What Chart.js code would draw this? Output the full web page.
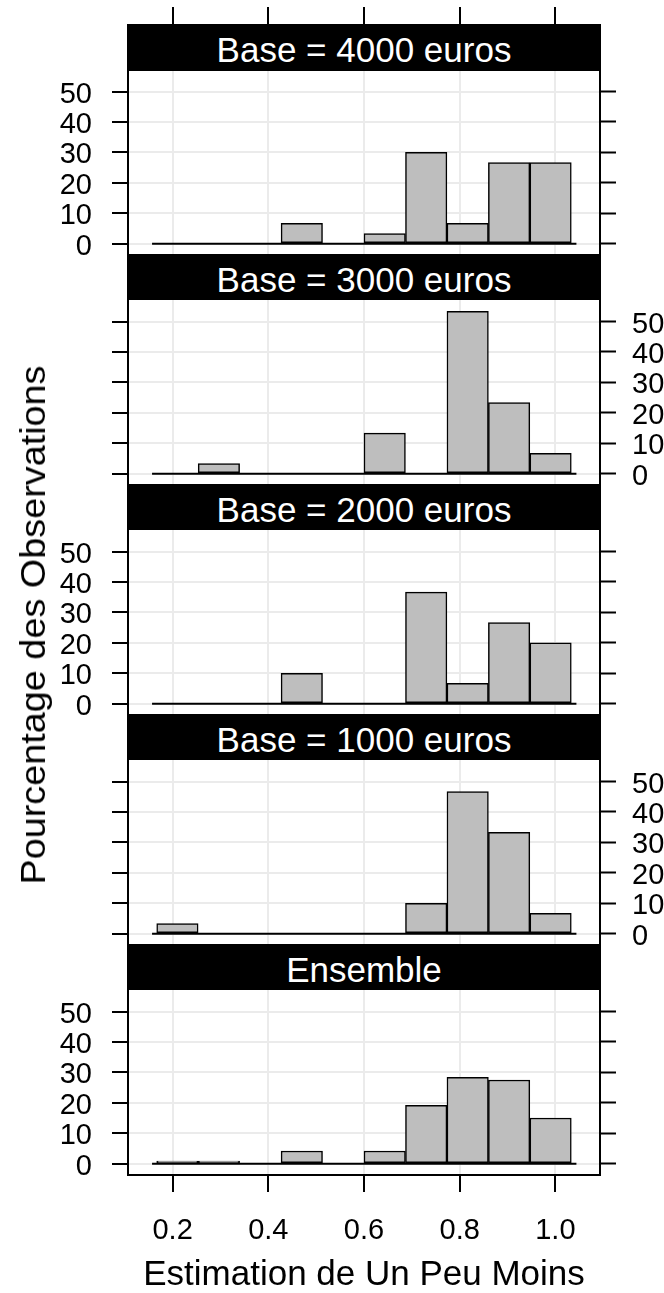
<!DOCTYPE html>
<html><head><meta charset="utf-8">
<script src="https://cdn.jsdelivr.net/npm/chart.js@4.4.1/dist/chart.umd.min.js"></script>
<style>
html,body{margin:0;padding:0;background:#fff;}
body{width:664px;height:1293px;position:relative;overflow:hidden;font-family:"Liberation Sans",Arial,sans-serif;}
canvas{position:absolute;left:0;z-index:1;}
.strip{position:absolute;left:127px;width:474px;height:46px;background:#000;color:#fff;font-size:35px;line-height:46px;text-align:center;z-index:2;white-space:nowrap;}
.strip span{position:relative;top:3px;}
#ytitle{position:absolute;left:33px;top:625px;transform:translate(-50%,-50%) rotate(-90deg) scaleX(1.08);font-size:35px;line-height:40px;white-space:nowrap;color:#000;z-index:3;}
</style></head><body>
<div id="ytitle">Pourcentage des Observations</div>
<script>
// ---- data ----
const panelTitles = ['Base = 4000 euros', 'Base = 3000 euros', 'Base = 2000 euros', 'Base = 1000 euros', 'Ensemble'];
const binCenters = [0.21, 0.2967, 0.3833, 0.47, 0.5567, 0.6433, 0.73, 0.8167, 0.9033, 0.99];
const base4000 = [0, 0, 0, 6.67, 0, 3.33, 30, 6.67, 26.67, 26.67];
const base3000 = [0, 3.33, 0, 0, 0, 13.33, 0, 53.33, 23.33, 6.67];
const base2000 = [0, 0, 0, 10, 0, 0, 36.67, 6.67, 26.67, 20];
const base1000 = [3.33, 0, 0, 0, 0, 0, 10, 46.67, 33.33, 6.67];
const ensemble = [0.83, 0.83, 0, 4.17, 0, 4.17, 19.17, 28.33, 27.5, 15];
const panelValues = [base4000, base3000, base2000, base1000, ensemble];
const xTicks = [0.2, 0.4, 0.6, 0.8, 1.0];
const yTicks = [0, 10, 20, 30, 40, 50];
const xLimits = [0.1067, 1.0933];
const yLimits = [-3.73, 57.07];
const baselineSpan = [0.157, 1.044];
const labelSide = ['left', 'right', 'left', 'right', 'left'];
const xTitle = 'Estimation de Un Peu Moins';

// ---- layout ----
const FONT = "'Liberation Sans', Arial, sans-serif";
const PAGE_H = 1293, PLOT_TOP0 = 70, PITCH = 230, PLOT_H = 185, LEFT_W = 128, RIGHT_W = 64, STRIP_H = 46;
Chart.defaults.font.family = FONT;

panelValues.forEach((vals, i) => {
  const isFirst = i === 0, isLast = i === panelValues.length - 1;
  const plotTop = PLOT_TOP0 + PITCH * i;
  const plotBottom = plotTop + PLOT_H;
  const xAxisH = isFirst ? plotTop : (isLast ? PAGE_H - plotBottom : 0);
  const canvasTop = isFirst ? 0 : plotTop - 20;
  const canvasH = (isFirst ? plotTop : 20) + PLOT_H + (isLast ? xAxisH : 20);

  const strip = document.createElement('div');
  strip.className = 'strip';
  strip.style.top = (plotTop - STRIP_H) + 'px';
  const sp = document.createElement('span');
  sp.textContent = panelTitles[i];
  strip.appendChild(sp);
  document.body.appendChild(strip);

  const cv = document.createElement('canvas');
  cv.width = 664; cv.height = canvasH;
  cv.style.top = canvasTop + 'px';
  cv.style.width = '664px'; cv.style.height = canvasH + 'px';
  document.body.appendChild(cv);

  const side = labelSide[i];
  new Chart(cv.getContext('2d'), {
    type: 'bar',
    data: {
      datasets: [
        {
          type: 'line',
          data: baselineSpan.map(x => ({x: x, y: 0})),
          borderColor: '#000', borderWidth: 2, pointRadius: 0,
          xAxisID: 'x', yAxisID: 'yL'
        },
        {
          type: 'bar',
          data: binCenters.map((c, k) => ({x: c, y: vals[k]})),
          backgroundColor: '#bebebe', borderColor: '#000', borderWidth: 1.5,
          borderSkipped: false, barPercentage: 1, categoryPercentage: 1,
          xAxisID: 'x', yAxisID: 'yL'
        }
      ]
    },
    options: {
      responsive: false, animation: false, devicePixelRatio: 1, events: [],
      layout: {padding: {left: 0, right: 0, top: isFirst ? 0 : 20, bottom: isLast ? 0 : 20}},
      plugins: {legend: {display: false}, tooltip: {enabled: false}, title: {display: false}},
      scales: {
        x: {
          type: 'linear', position: isFirst ? 'top' : 'bottom',
          min: xLimits[0], max: xLimits[1], offset: false,
          afterBuildTicks: s => { s.ticks = xTicks.map(v => ({value: v})); },
          afterFit: s => { s.height = xAxisH; s.paddingLeft = 0; s.paddingRight = 0; },
          grid: {color: '#ebebeb', lineWidth: 2, offset: false, drawTicks: isFirst || isLast,
                 tickLength: isFirst ? 63 : 17, tickColor: '#000', tickWidth: 2},
          border: {display: true, color: '#000', width: 2},
          ticks: {display: isLast, color: '#000', font: {size: 29}, padding: 22,
                  maxRotation: 0, autoSkip: false, callback: v => Number(v).toFixed(1)},
          title: {display: isLast, text: xTitle, color: '#000', font: {size: 35, lineHeight: 1}, padding: 0}
        },
        yL: {
          type: 'linear', position: 'left', min: yLimits[0], max: yLimits[1],
          afterBuildTicks: s => { s.ticks = yTicks.map(v => ({value: v})); },
          afterFit: s => { s.width = LEFT_W; s.paddingTop = 0; s.paddingBottom = 0; },
          grid: {color: '#ebebeb', lineWidth: 2, drawTicks: true, tickLength: 16, tickColor: '#000', tickWidth: 2},
          border: {display: true, color: '#000', width: 2},
          ticks: {color: '#000', font: {size: 29}, padding: 20, autoSkip: false, labelOffset: 3,
                  callback: v => side === 'left' ? String(v) : ''}
        },
        yR: {
          type: 'linear', position: 'right', min: yLimits[0], max: yLimits[1],
          afterBuildTicks: s => { s.ticks = yTicks.map(v => ({value: v})); },
          afterFit: s => { s.width = RIGHT_W; s.paddingTop = 0; s.paddingBottom = 0; },
          grid: {drawOnChartArea: false, drawTicks: true, tickLength: 16, tickColor: '#000', tickWidth: 2},
          border: {display: true, color: '#000', width: 2},
          ticks: {color: '#000', font: {size: 29}, padding: 16, autoSkip: false, labelOffset: 3,
                  callback: v => side === 'right' ? String(v) : ''}
        }
      }
    }
  });
});
</script>
</body></html>
